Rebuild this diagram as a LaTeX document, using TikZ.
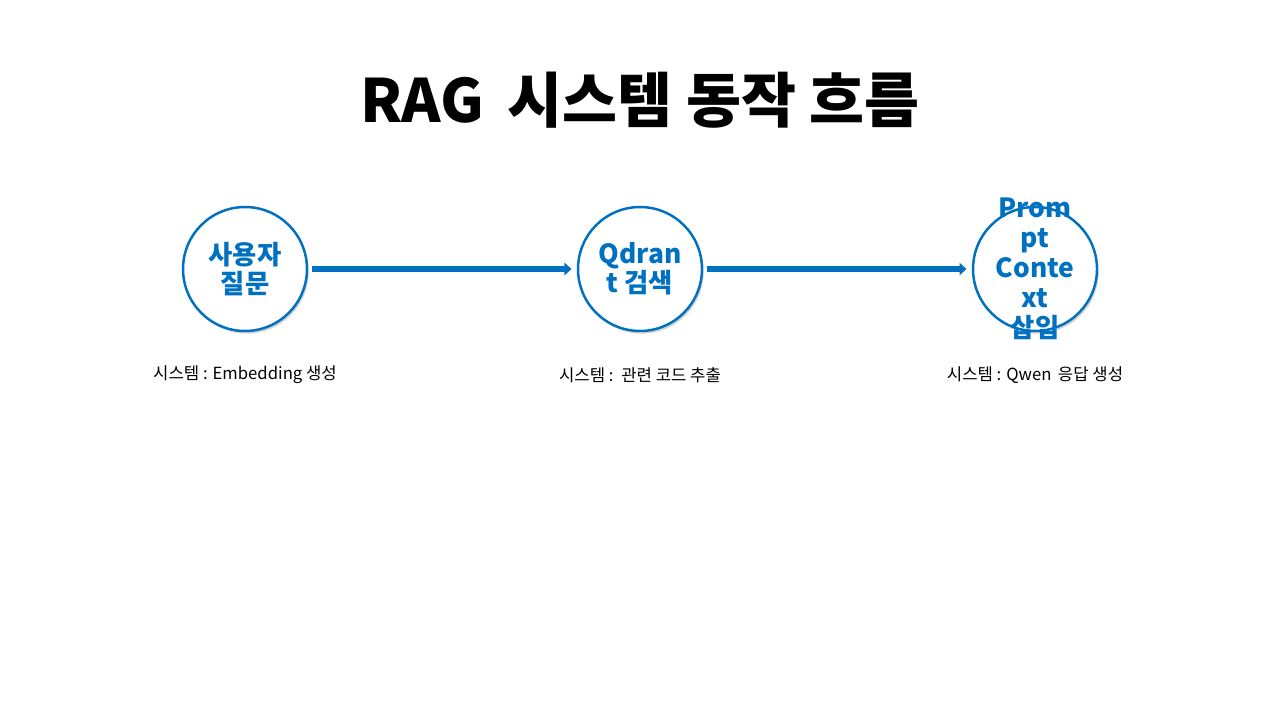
\documentclass[tikz,border=0pt]{standalone}
\usepackage{fontspec}
\setmainfont{Noto Sans CJK KR}
\usetikzlibrary{shadows,arrows.meta}
\definecolor{stepblue}{HTML}{0070C0}
\begin{document}
\begin{tikzpicture}[x=0.02cm,y=-0.02cm,
  stage/.style={circle, draw=stepblue, line width=1.4pt, fill=white,
    minimum size=2.48cm, inner sep=0pt, text=stepblue, align=center,
    font=\fontsize{15}{16.5}\selectfont\bfseries,
    drop shadow={shadow xshift=1pt, shadow yshift=-1.5pt, opacity=0.35}},
  flow/.style={-{Triangle[length=4pt,width=7pt]}, stepblue, line width=3.4pt},
  note/.style={font=\fontsize{9.5}{11}\selectfont}]
  \useasboundingbox (0,0) rectangle (1280,720);

  % Title
  \node[font=\fontsize{34}{36}\selectfont\bfseries] (title) at (640,100) {RAG\, 시스템 동작 흐름};

  % Stages
  \node[stage] (ask) at (245,269) {사용자\\질문};
  \node[stage] (search) at (640,269) {Qdran\\t 검색};
  \node[stage, label={[text=stepblue, align=center,
      font=\fontsize{15}{17}\selectfont\bfseries]center:Prom\\pt\\Conte\\xt\\삽입}]
    (prompt) at (1035,269) {};

  % Connectors
  \draw[flow] ([xshift=2pt]ask.east) -- ([xshift=-3pt]search.west);
  \draw[flow] ([xshift=2pt]search.east) -- ([xshift=-3pt]prompt.west);

  % Notes
  \node[note] (n1) at (245,375) {시스템 : Embedding 생성};
  \node[note] (n2) at (640,375) {시스템 :\, 관련 코드 추출};
  \node[note] (n3) at (1035,375) {시스템 : Qwen\, 응답 생성};
\end{tikzpicture}
\end{document}
